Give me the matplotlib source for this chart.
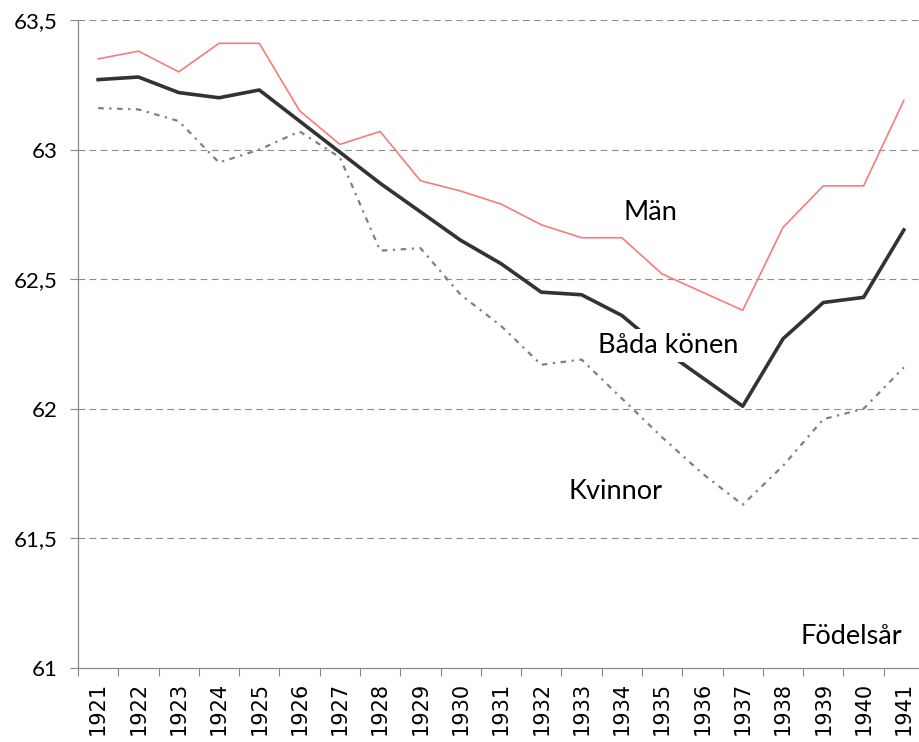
import matplotlib
matplotlib.use("Agg")
import matplotlib.pyplot as plt
import numpy as np

years = list(range(1921, 1942))
man = [63.35, 63.38, 63.30, 63.41, 63.41, 63.15, 63.02, 63.07, 62.88, 62.84,
       62.79, 62.71, 62.66, 62.66, 62.52, 62.45, 62.38, 62.70, 62.86, 62.86, 63.19]
bada = [63.27, 63.28, 63.22, 63.20, 63.23, 63.11, 62.99, 62.87, 62.76, 62.65,
        62.56, 62.45, 62.44, 62.36, 62.23, 62.12, 62.01, 62.27, 62.41, 62.43, 62.69]
kvinnor = [63.16, 63.155, 63.11, 62.95, 63.00, 63.07, 62.97, 62.61, 62.62, 62.44,
           62.32, 62.17, 62.19, 62.04, 61.89, 61.75, 61.63, 61.78, 61.96, 62.00, 62.16]
yticks = [61, 61.5, 62, 62.5, 63, 63.5]
ytick_labels = ["61", "61,5", "62", "62,5", "63", "63,5"]

plt.rcParams["font.family"] = ["Lato", "DejaVu Sans"]

fig = plt.figure(figsize=(9.2, 7.42), dpi=100)
# the category axis runs a little past the right edge of the picture
ax = fig.add_axes([78 / 920, 1 - 668 / 742, 846 / 920, 648 / 742])

x = np.arange(len(years))
ax.plot(x, man, color="#f47c7c", lw=1.2, zorder=3)
ax.plot(x, kvinnor, color="#808080", lw=1.6, ls=(0, (2.5, 2.5, 1, 2.5)), zorder=3)
ax.plot(x, bada, color="#333333", lw=2.6, zorder=4)

ax.set_xlim(-0.5, len(years) - 0.5)
ax.set_ylim(61, 63.5)

for v in yticks[1:]:
    ax.axhline(v, color="#8c8c8c", lw=0.8, ls=(0, (6, 4)), zorder=1)

ax.set_yticks(yticks)
ax.set_yticklabels(ytick_labels, fontsize=16)
ax.tick_params(axis="y", length=6, width=0.8, color="#888888", pad=9)

ax.set_xticks(x)
ax.set_xticklabels([str(y) for y in years], rotation=90, fontsize=15,
                   family="DejaVu Sans")
ax.set_xticks(np.arange(-0.5, len(years)), minor=True)
ax.tick_params(axis="x", which="major", length=0, pad=10)
ax.tick_params(axis="x", which="minor", length=6, width=0.8, color="#888888")

for side in ["top", "right"]:
    ax.spines[side].set_visible(False)
for side in ["left", "bottom"]:
    ax.spines[side].set_color("#888888")
    ax.spines[side].set_linewidth(0.9)

ax.text(13.72, 62.757, "Män", fontsize=19.5, ha="center", va="center", zorder=5)
ax.text(14.14, 62.244, "Båda könen", fontsize=19.5, ha="center", va="center", zorder=5,
        bbox=dict(facecolor="white", edgecolor="none", pad=3))
ax.text(12.83, 61.68, "Kvinnor", fontsize=19.5, ha="center", va="center", zorder=5)
ax.text(18.7, 61.12, "Födelsår", fontsize=19.5, ha="center", va="center", zorder=5)

fig.savefig("out.png", dpi=100)
